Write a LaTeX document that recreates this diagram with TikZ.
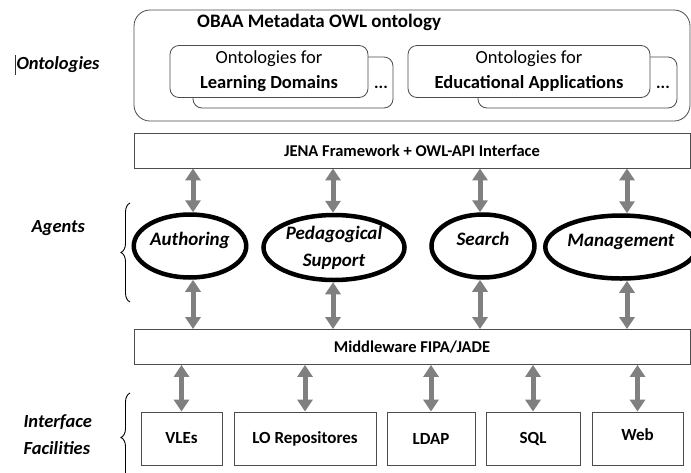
\documentclass[tikz,border=0pt]{standalone}
\usepackage{fontspec}
\setmainfont{Carlito}
\usetikzlibrary{arrows.meta,shapes.geometric,decorations.pathreplacing}
\begin{document}
\begin{tikzpicture}[x=1pt,y=-1pt,
  frame/.style={draw=black!70,line width=0.8pt,fill=white,inner sep=0pt},
  ontobox/.style={frame,rounded corners=9pt,minimum width=#1,minimum height=52pt,
    align=center,font=\fontsize{18.5}{25}\selectfont},
  ghost/.style={draw=black!70,line width=0.8pt,rounded corners=9pt},
  layer/.style={frame,minimum width=556pt,minimum height=35pt,font=\bfseries\fontsize{16.5}{18}\selectfont},
  facility/.style={frame,minimum width=#1,minimum height=53pt,font=\bfseries\fontsize{17}{19}\selectfont},
  agent/.style={draw=black,line width=4.5pt,ellipse,inner sep=0pt,minimum width=#1,minimum height=63pt,
    align=center,font=\bfseries\itshape\fontsize{19}{27}\selectfont},
  oneline/.style={text height=9pt,text depth=11pt},
  link/.style={draw=black!50,line width=5pt,{Triangle[width=15pt,length=12pt]}-{Triangle[width=15pt,length=12pt]}},
  side/.style={font=\bfseries\itshape\fontsize{18.5}{27}\selectfont,align=left},
  bracket/.style={draw=black,line width=0.9pt,decorate,decoration={brace,amplitude=9pt}}]
\useasboundingbox (0,0) rectangle (691,472);

% ontology layer
\node[frame,rounded corners=16pt,minimum width=556pt,minimum height=111pt] (obaa) at (412,65.5) {};
\node[anchor=west,inner sep=0pt,font=\bfseries\fontsize{19}{21}\selectfont] (title) at (197,22) {OBAA Metadata OWL ontology};

\draw[ghost] (193,57) rectangle (393,108);
\node[ontobox=198pt] (domains) at (269,71.5) {Ontologies for\\\textbf{Learning Domains}};
\node[font=\bfseries\fontsize{17}{19}\selectfont,inner sep=0pt] (dots1) at (381,87) {...};

\draw[ghost] (478,57) rectangle (677,108);
\node[ontobox=242pt] (apps) at (529,71.5) {Ontologies for\\\textbf{Educational Applications}};
\node[font=\bfseries\fontsize{17}{19}\selectfont,inner sep=0pt] (dots2) at (663,87) {...};

% framework and middleware layers
\node[layer] (jena) at (412,150.5) {JENA Framework + OWL-API Interface};
\node[layer] (fipa) at (412,347) {Middleware FIPA/JADE};

% agents
\node[agent=112pt,oneline] (auth) at (190,246) {Authoring};
\node[agent=141pt,minimum height=65pt] (peda) at (334,247.5) {Pedagogical\\Support};
\node[agent=103pt,oneline] (search) at (483,246) {Search};
\node[agent=138pt,oneline] (mgmt) at (621,247) {Management};

% interface facilities
\node[facility=81pt] (vle) at (181.5,438.5) {VLEs};
\node[facility=142pt] (lor) at (305,438.5) {LO Repositores};
\node[facility=88pt] (ldap) at (431,438.5) {LDAP};
\node[facility=94pt] (sql) at (533,438.5) {SQL};
\node[facility=91pt,text depth=7pt] (web) at (637.5,438.5) {Web};

% links between layers
\foreach \a/\x in {auth/193,peda/333,search/480,mgmt/627}{
  \draw[link] (jena.south -| \x,0) -- (\a.north -| \x,0);
  \draw[link] (\a.south -| \x,0) -- (fipa.north -| \x,0);
}
\foreach \f in {vle,lor,ldap,sql,web}{
  \draw[link] (fipa.south -| \f) -- (\f.north);
}

% layer captions
\node[side,anchor=west] (lonto) at (13,65) {Ontologies};
\draw[black!80,line width=0.6pt] (15,55) -- (15,75);
\node[side,anchor=west] (lagents) at (28,228) {Agents};
\node[side,anchor=west] (lfac) at (20,435) {Interface\\Facilities};
\coordinate (b1top) at (130,203);
\coordinate (b1bot) at (130,302);
\coordinate (b2top) at (130,393);
\coordinate (b2bot) at (130,482);
\draw[bracket] (b1bot) -- (b1top);
\draw[bracket] (b2bot) -- (b2top);
\end{tikzpicture}
\end{document}
